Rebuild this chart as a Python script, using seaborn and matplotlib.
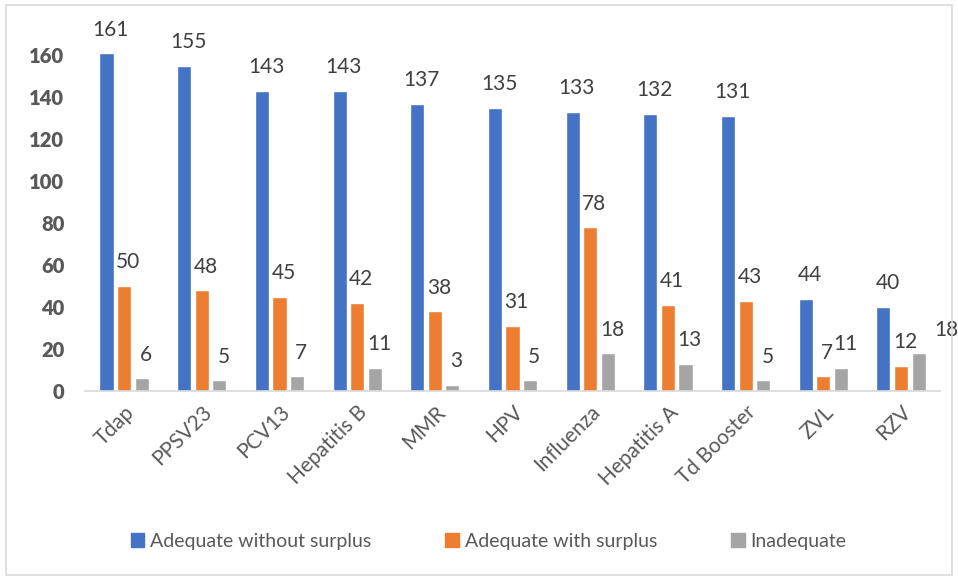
import matplotlib.pyplot as plt
import pandas as pd
import seaborn as sns
from matplotlib.patches import Rectangle

sns.set_theme(style="white")
plt.rcParams['font.family'] = ['Lato', 'DejaVu Sans']

# Data
vaccines = ['Tdap', 'PPSV23', 'PCV13', 'Hepatitis B', 'MMR', 'HPV',
            'Influenza', 'Hepatitis A', 'Td Booster', 'ZVL', 'RZV']
without_surplus = [161, 155, 143, 143, 137, 135, 133, 132, 131, 44, 40]
with_surplus = [50, 48, 45, 42, 38, 31, 78, 41, 43, 7, 12]
inadequate = [6, 5, 7, 11, 3, 5, 18, 13, 5, 11, 18]

series = ['Adequate without surplus', 'Adequate with surplus', 'Inadequate']
colors = ['#4472C4', '#ED7D31', '#A5A5A5']

df = pd.DataFrame({
    'Vaccine': vaccines * 3,
    'Status': [s for s in series for _ in vaccines],
    'Count': without_surplus + with_surplus + inadequate,
})

fig = plt.figure(figsize=(9.58, 5.8), dpi=100)
ax = fig.add_axes([0.089, 0.326, 0.892, 0.633])

sns.barplot(data=df, x='Vaccine', y='Count', hue='Status', hue_order=series,
            palette=colors, width=0.68, gap=0.2, ax=ax, legend=False,
            saturation=1)

# value labels above each bar (the last one is pushed right, as in the original)
n = len(ax.containers)
for k, container in enumerate(ax.containers):
    for i, bar in enumerate(container):
        h = bar.get_height()
        x = bar.get_x() + bar.get_width() / 2
        dx = 20 if (k == n - 1 and i == len(container) - 1) else 3
        ax.annotate(f"{int(h)}", (x, h), xytext=(dx, 17), textcoords='offset points',
                    ha='center', va='center', fontsize=15, color='#404040')

ax.set_ylim(0, 175)
ax.set_xlim(-0.5, len(vaccines) - 0.5)
ax.set_yticks(range(0, 161, 20))
ax.set_xlabel('')
ax.set_ylabel('')
ax.tick_params(axis='y', length=0, pad=15, labelsize=14.5, labelcolor='#595959')
ax.tick_params(axis='x', length=0, pad=8, labelsize=15, labelcolor='#595959')
for lbl in ax.get_yticklabels():
    lbl.set_fontweight('heavy')
plt.setp(ax.get_xticklabels(), rotation=45, ha='right', rotation_mode='anchor')

for side in ['left', 'right', 'top']:
    ax.spines[side].set_visible(False)
ax.spines['bottom'].set_color('#D9D9D9')
ax.spines['bottom'].set_linewidth(1.2)
ax.grid(False)

handles = [Rectangle((0, 0), 1, 1, color=c) for c in colors]
fig.legend(handles, series, loc='center', bbox_to_anchor=(0.51, 0.067), ncol=3,
           frameon=False, fontsize=14, handlelength=0.7, handleheight=0.7,
           handletextpad=0.3, columnspacing=3.8, labelcolor='#595959')

# light chart border
fig.patches.append(Rectangle((0.006, 0.008), 0.988, 0.984, transform=fig.transFigure,
                             fill=False, edgecolor='#D9D9D9', linewidth=1.2))

fig.savefig('out.png', dpi=100)
